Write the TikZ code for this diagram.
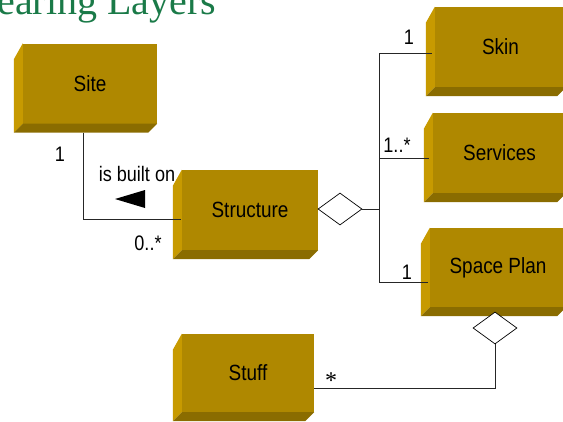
\documentclass[tikz,border=0pt]{standalone}
\usepackage{fontspec}
\setmainfont{Liberation Sans}
\newfontfamily\boxfont[FakeStretch=0.86]{Liberation Sans}
\newfontfamily\titlefont{Liberation Serif}
\usetikzlibrary{calc,positioning,shapes.geometric}
\definecolor{faceGold}{RGB}{175,136,0}
\definecolor{leftGold}{RGB}{199,154,0}
\definecolor{lowGold}{RGB}{138,108,0}
\definecolor{titleGreen}{RGB}{26,122,72}
\newcommand{\layerbevel}[1]{%
  \fill[leftGold] (#1.north west) -- ++(-\dep,16) -- ($(#1.south west)+(-\dep,\dep)$)
       -- (#1.south west) -- cycle;
  \fill[lowGold] (#1.south west) -- ($(#1.south west)+(-\dep,\dep)$)
       -- ($(#1.south east)+(-\dep,\dep)$) -- (#1.south east) -- cycle;}

\begin{document}
\begin{tikzpicture}[x=1pt,y=-1pt,
    layer/.style={fill=faceGold,inner sep=0pt,minimum height=80pt,
                  font=\boxfont\fontsize{22}{24}\selectfont},
    mult/.style={inner sep=0pt,font=\boxfont\fontsize{21}{23}\selectfont},
    agg/.style={draw,line width=0.7pt,fill=white,diamond,inner sep=0pt,
                minimum width=44pt,minimum height=32pt},
    conn/.style={draw=black!85,line width=0.75pt}]
  \def\dep{9}          % profundidad del bisel
  \useasboundingbox (0,0) rectangle (563,421);
  \clip (0,0) rectangle (563,421);

  % --- titulo
  \node[anchor=base west,inner sep=0pt,text=titleGreen,
        font=\titlefont\fontsize{40}{44}\selectfont] (title) at (-45,14) {Shearing Layers};

  % --- capas
  \node[layer,minimum width=134pt] (site)      at (90,83.5)  {Site};
  \node[layer,minimum width=136pt] (structure) at (250,210)  {Structure};
  \node[layer,minimum width=131pt] (skin)      at (500.5,47) {Skin};
  \node[layer,minimum width=133pt] (services)  at (499.5,153) {Services};
  \node[layer,minimum width=136pt,minimum height=79pt] (spaceplan) at (498,267.5) {Space Plan};
  \node[layer,minimum width=132pt,minimum height=78pt] (stuff)     at (248,373) {Stuff};
  \foreach \b in {site,structure,skin,services,spaceplan,stuff}
    \layerbevel{\b};

  % --- is built on
  \draw[conn] ($(site.south)+(-7,\dep)$) |- ($(structure.west)+(-1,9)$);
  \fill (115,199) -- (145,190) -- (145,208) -- cycle;
  \node[mult] (onlbl)   at (137,174) {is built on};
  \node[mult] (siteone) at (60,154)  {1};
  \node[mult] (structmany) at (148,243) {0..*};

  % --- agregacion de la estructura
  \node[agg] (aggs) at (340,209) {};
  \coordinate (skinend) at ($(skin.west)+(-3,6)$);
  \coordinate (planend) at ($(spaceplan.west)+(-2,14.5)$);
  \coordinate (bustop)  at (379,53);
  \coordinate (busbot)  at (379,282);
  \draw[conn] (skinend) -- (bustop) -- (busbot) -- (planend);
  \draw[conn] (aggs.east) -- (aggs.east -| bustop);
  \draw[conn] ($(services.west)+(-4,5)$) -- ($(services.west -| bustop)+(0,5)$);
  \node[mult] (skinone)  at (409,37)  {1};
  \node[mult] (servmany) at (397,145) {1..*};
  \node[mult] (planone)  at (407,272) {1};

  % --- agregacion del plano
  \node[agg] (aggp) at (495,328) {};
  \draw[conn] (aggp.south) |- ($(stuff.east)+(0,15)$);
  \node[inner sep=0pt,font=\titlefont\fontsize{24}{26}\selectfont] (stuffmany) at (331,381) {*};
\end{tikzpicture}
\end{document}
